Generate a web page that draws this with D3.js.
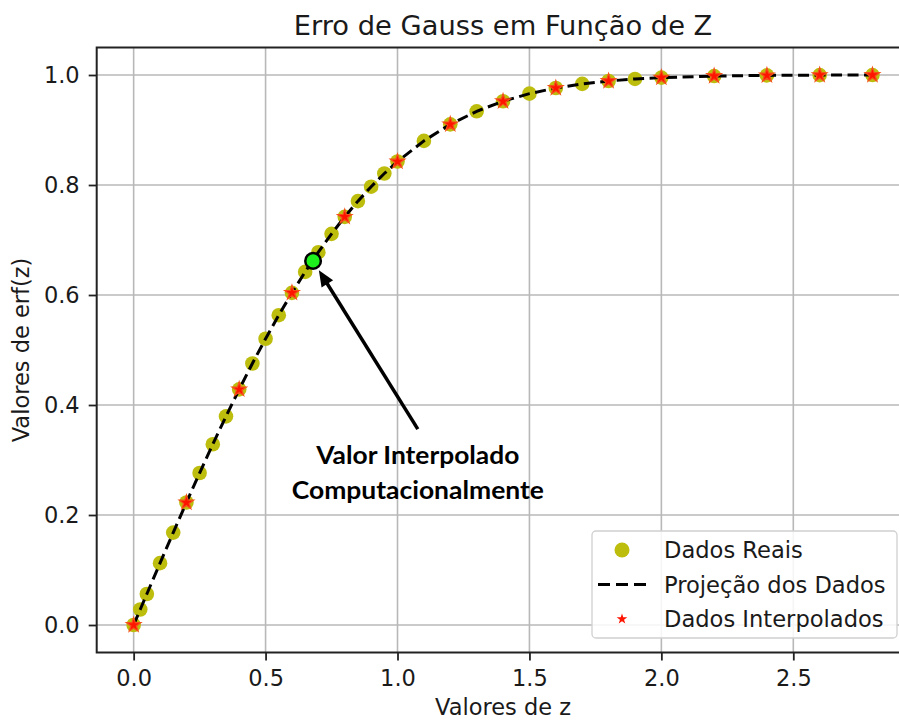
<!DOCTYPE html>
<html>
<head>
<meta charset="utf-8">
<script src="https://cdn.jsdelivr.net/npm/d3@7"></script>
<style>
  html, body { margin: 0; padding: 0; background: #fff; }
  svg { display: block; }
  text { font-family: "DejaVu Sans", sans-serif; fill: #1a1a1a; }
</style>
</head>
<body>
<svg id="chart" width="899" height="720"></svg>
<script>
// ---- data ----
const realZ   = [0, 0.025, 0.05, 0.1, 0.15, 0.2, 0.25, 0.3, 0.35, 0.4, 0.45, 0.5, 0.55, 0.6, 0.65, 0.7, 0.75, 0.8, 0.85, 0.9, 0.95, 1.0, 1.1, 1.2, 1.3, 1.4, 1.5, 1.6, 1.7, 1.8, 1.9, 2.0, 2.2, 2.4, 2.6, 2.8];
const realErf = [0, 0.0282, 0.0564, 0.1125, 0.1680, 0.2227, 0.2763, 0.3286, 0.3794, 0.4284, 0.4755, 0.5205, 0.5633, 0.6039, 0.6420, 0.6778, 0.7112, 0.7421, 0.7707, 0.7969, 0.8209, 0.8427, 0.8802, 0.9103, 0.9340, 0.9523, 0.9661, 0.9763, 0.9838, 0.9891, 0.9928, 0.9953, 0.9981, 0.9993, 0.9998, 0.9999];
const interpZ   = [0, 0.2, 0.4, 0.6, 0.8, 1.0, 1.2, 1.4, 1.6, 1.8, 2.0, 2.2, 2.4, 2.6, 2.8];
const interpErf = [0, 0.2227, 0.4284, 0.6039, 0.7421, 0.8427, 0.9103, 0.9523, 0.9763, 0.9891, 0.9953, 0.9981, 0.9993, 0.9998, 0.9999];
const highlightZ = 0.68;
const highlightErf = 0.662;
const xTicks = [0.0, 0.5, 1.0, 1.5, 2.0, 2.5];
const yTicks = [0.0, 0.2, 0.4, 0.6, 0.8, 1.0];
const titleText = "Erro de Gauss em Função de Z";
const xLabel = "Valores de z";
const yLabel = "Valores de erf(z)";
const legendLabels = ["Dados Reais", "Projeção dos Dados", "Dados Interpolados"];
const annotationLines = ["Valor Interpolado", "Computacionalmente"];
const annotationAnchor = [1.077, 0.356];

// ---- layout ----
const svg = d3.select("#chart");
const pL = 96.7, pR = 909.4, pT = 47.5, pB = 652.5;
const x = d3.scaleLinear().domain([-0.14, 2.94]).range([pL, pR]);
const y = d3.scaleLinear().domain([-0.05, 1.05]).range([pB, pT]);

const olive = "#bdbd0e";
const gridColor = "#b8b8b8";

// grid
const grid = svg.append("g");
grid.selectAll("line.vx").data(xTicks).enter().append("line")
  .attr("x1", d => x(d)).attr("x2", d => x(d))
  .attr("y1", pT).attr("y2", pB)
  .attr("stroke", gridColor).attr("stroke-width", 1.6);
grid.selectAll("line.hy").data(yTicks).enter().append("line")
  .attr("y1", d => y(d)).attr("y2", d => y(d))
  .attr("x1", pL).attr("x2", pR)
  .attr("stroke", gridColor).attr("stroke-width", 1.6);

// axes
const xAxis = d3.axisBottom(x).tickValues(xTicks).tickFormat(d3.format(".1f")).tickSize(8).tickPadding(10);
const yAxis = d3.axisLeft(y).tickValues(yTicks).tickFormat(d3.format(".1f")).tickSize(8).tickPadding(9);
const gx = svg.append("g").attr("transform", `translate(0,${pB})`).call(xAxis);
const gy = svg.append("g").attr("transform", `translate(${pL},0)`).call(yAxis);
[gx, gy].forEach(g => {
  g.select(".domain").remove();
  g.selectAll(".tick line").attr("stroke", "#222").attr("stroke-width", 1.8);
  g.selectAll(".tick text").attr("font-size", 22.5).attr("fill", "#1a1a1a")
    .style("font-family", "'DejaVu Sans', sans-serif");
});

// frame
svg.append("rect").attr("x", pL).attr("y", pT)
  .attr("width", pR - pL).attr("height", pB - pT)
  .attr("fill", "none").attr("stroke", "#222").attr("stroke-width", 2);

// real data circles
svg.append("g").selectAll("circle").data(realZ.map((z, i) => [z, realErf[i]]))
  .enter().append("circle")
  .attr("cx", d => x(d[0])).attr("cy", d => y(d[1])).attr("r", 7.3)
  .attr("fill", olive);

// projection line
const line = d3.line().x(d => x(d[0])).y(d => y(d[1]));
svg.append("path").datum(realZ.map((z, i) => [z, realErf[i]]))
  .attr("d", line).attr("fill", "none").attr("stroke", "#000")
  .attr("stroke-width", 3).attr("stroke-dasharray", "11,5.5");

// interpolated stars
const starR = 7.6;
const star = d3.symbol().type(d3.symbolStar).size(starR * starR / 0.8908130915292852);
svg.append("g").selectAll("path").data(interpZ.map((z, i) => [z, interpErf[i]]))
  .enter().append("path")
  .attr("d", star)
  .attr("transform", d => `translate(${x(d[0])},${y(d[1])})`)
  .attr("fill", "#ff1400").attr("stroke", "#f5501a").attr("stroke-width", 1.2);

// highlighted interpolated point
const hx = x(highlightZ), hy = y(highlightErf);
svg.append("circle").attr("cx", hx).attr("cy", hy).attr("r", 7.8)
  .attr("fill", "#1ef01e").attr("stroke", "#000").attr("stroke-width", 2.5);

// arrow
const tx = x(annotationAnchor[0]), ty = y(annotationAnchor[1]);
const dx = tx - hx, dy = ty - hy, len = Math.hypot(dx, dy);
const ux = dx / len, uy = dy / len;
const tipX = hx + ux * 11, tipY = hy + uy * 11;
const headLen = 16, headW = 6.8;
const baseX = tipX + ux * headLen, baseY = tipY + uy * headLen;
svg.append("line").attr("x1", tx).attr("y1", ty).attr("x2", baseX - ux * 1).attr("y2", baseY - uy * 1)
  .attr("stroke", "#000").attr("stroke-width", 3.5);
svg.append("polygon")
  .attr("points", [
    [tipX, tipY],
    [baseX - uy * headW, baseY + ux * headW],
    [baseX + uy * headW, baseY - ux * headW]
  ].map(p => p.join(",")).join(" "))
  .attr("fill", "#000");

// annotation text
const annW = [203, 252];
annotationLines.forEach((t, i) => {
  svg.append("text")
    .attr("x", x(annotationAnchor[0]) ).attr("y", 463.5 + i * 35)
    .attr("text-anchor", "middle")
    .attr("font-size", 24.5).attr("font-weight", 700)
    .attr("textLength", annW[i]).attr("lengthAdjust", "spacingAndGlyphs")
    .style("font-family", "Lato, 'Open Sans', sans-serif")
    .style("fill", "#000")
    .text(t);
});

// title and axis labels
svg.append("text").attr("x", (pL + pR) / 2).attr("y", 35)
  .attr("text-anchor", "middle").attr("font-size", 27.3).text(titleText);
svg.append("text").attr("x", (pL + pR) / 2).attr("y", 715)
  .attr("text-anchor", "middle").attr("font-size", 22.5).text(xLabel);
svg.append("text").attr("transform", `translate(29,${(pT + pB) / 2}) rotate(-90)`)
  .attr("text-anchor", "middle").attr("font-size", 22.5).text(yLabel);

// legend
const lg = svg.append("g");
lg.append("rect").attr("x", 592).attr("y", 531).attr("width", 305).attr("height", 107)
  .attr("rx", 4).attr("fill", "#fff").attr("fill-opacity", 0.85)
  .attr("stroke", "#d0d0d0").attr("stroke-width", 1.3);
const rowY = [550, 584.5, 619];
lg.append("circle").attr("cx", 622).attr("cy", rowY[0]).attr("r", 7.5).attr("fill", olive);
lg.append("line").attr("x1", 598).attr("x2", 647).attr("y1", rowY[1]).attr("y2", rowY[1])
  .attr("stroke", "#000").attr("stroke-width", 3).attr("stroke-dasharray", "12,6");
lg.append("path")
  .attr("d", d3.symbol().type(d3.symbolStar).size(5.6 * 5.6 / 0.8908130915292852))
  .attr("transform", `translate(622,${rowY[2]})`).attr("fill", "#ff1400");
legendLabels.forEach((t, i) => {
  lg.append("text").attr("x", 664).attr("y", rowY[i] + 8)
    .attr("font-size", 22.6).text(t);
});
</script>
</body>
</html>
